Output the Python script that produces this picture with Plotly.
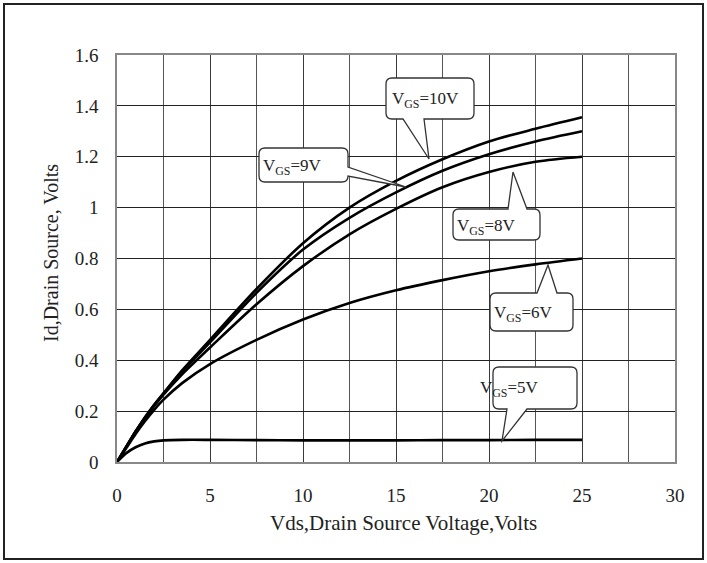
import plotly.graph_objects as go

# ---- data ----
vds = [0, 0.5, 1, 1.5, 2, 2.5, 3.5, 5, 7.5, 10, 12.5, 15, 17.5, 20, 22.5, 25]
id_10v = [0, 0.06, 0.12, 0.175, 0.225, 0.27, 0.36, 0.48, 0.68, 0.86, 1.00, 1.105, 1.19, 1.26, 1.31, 1.355]
id_9v = [0, 0.06, 0.12, 0.175, 0.225, 0.27, 0.355, 0.47, 0.665, 0.835, 0.96, 1.06, 1.145, 1.21, 1.26, 1.30]
id_8v = [0, 0.06, 0.12, 0.17, 0.22, 0.265, 0.345, 0.45, 0.62, 0.77, 0.895, 0.995, 1.08, 1.14, 1.18, 1.20]
id_6v = [0, 0.055, 0.11, 0.16, 0.205, 0.245, 0.31, 0.385, 0.48, 0.56, 0.625, 0.675, 0.715, 0.75, 0.777, 0.80]
id_5v = [0, 0.035, 0.058, 0.073, 0.081, 0.085, 0.087, 0.087, 0.086, 0.085, 0.085, 0.085, 0.086, 0.086, 0.087, 0.087]
series = [id_10v, id_9v, id_8v, id_6v, id_5v]
labels = ["V<sub>GS</sub>=10V", "V<sub>GS</sub>=9V", "V<sub>GS</sub>=8V", "V<sub>GS</sub>=6V", "V<sub>GS</sub>=5V"]
x_ticks = [0, 5, 10, 15, 20, 25, 30]
x_title = "Vds,Drain Source Voltage,Volts"
y_title = "Id,Drain Source, Volts"

# ---- layout geometry ----
W, H = 707, 563
L, R, T, B = 117, 675, 55, 462   # plot area in px
XMAX, YMAX = 30, 1.6

def px2x(px):
    return (px - L) / (R - L) * XMAX

def px2y(py):
    return (B - py) / (B - T) * YMAX

def px2paper(px, py):
    return (px - L) / (R - L), (B - py) / (B - T)

def pt(px, py):
    return f"{px2x(px):.4f},{px2y(py):.4f}"

def callout(x0, y0, x1, y1, side, b1, b2, tip, r=6):
    # rounded rect in px with a wedge on 'side' (base b1..b2, tip point)
    segs = ["M" + pt(x0 + r, y0)]
    if side == "top":
        segs += ["L" + pt(b1, y0), "L" + pt(*tip), "L" + pt(b2, y0)]
    segs.append("L" + pt(x1 - r, y0))
    segs.append("Q" + pt(x1, y0) + " " + pt(x1, y0 + r))
    if side == "right":
        segs += ["L" + pt(x1, b1), "L" + pt(*tip), "L" + pt(x1, b2)]
    segs.append("L" + pt(x1, y1 - r))
    segs.append("Q" + pt(x1, y1) + " " + pt(x1 - r, y1))
    if side == "bottom":
        segs += ["L" + pt(b2, y1), "L" + pt(*tip), "L" + pt(b1, y1)]
    segs.append("L" + pt(x0 + r, y1))
    segs.append("Q" + pt(x0, y1) + " " + pt(x0, y1 - r))
    segs.append("L" + pt(x0, y0 + r))
    segs.append("Q" + pt(x0, y0) + " " + pt(x0 + r, y0))
    segs.append("Z")
    return " ".join(segs)

fig = go.Figure()
for ys in series:
    fig.add_trace(go.Scatter(x=vds, y=ys, mode="lines",
                             line=dict(color="black", width=2.6, shape="spline", smoothing=0.9),
                             showlegend=False, hoverinfo="skip"))

callouts = [
    # box px (x0,y0,x1,y1), side, base1, base2, tip, text x, text y
    ((386, 78, 474, 119), "bottom", 403, 424, (429, 159), 390, 100),
    ((259, 148, 348, 182), "right", 167, 176, (406, 187), 261, 167),
    ((453, 209, 540, 240), "top", 508, 527, (513, 172), 455, 227),
    ((490, 293, 573, 331), "top", 537, 557, (548, 265), 492, 314),
    ((493, 367, 577, 409), "bottom", 507, 527, (502, 441), 478, 389),
]
shapes = []
annotations = []
for (box, side, b1, b2, tip, tx, ty), lab in zip(callouts, labels):
    shapes.append(dict(type="path", xref="x", yref="y",
                       path=callout(*box, side, b1, b2, tip),
                       line=dict(color="#333", width=1.3), fillcolor="white", layer="above"))
    annotations.append(dict(x=px2x(tx), y=px2y(ty), xref="x", yref="y", text=lab,
                            showarrow=False, xanchor="left", yanchor="middle",
                            font=dict(family="Liberation Serif", size=17, color="#222")))

# axis titles
ax, ay = px2paper(403, 523)
annotations.append(dict(x=ax, y=ay, xref="paper", yref="paper", text=x_title, showarrow=False,
                        xanchor="center", yanchor="middle",
                        font=dict(family="Liberation Serif", size=21, color="#222")))
bx, by = px2paper(51, 253)
annotations.append(dict(x=bx, y=by, xref="paper", yref="paper", text=y_title, showarrow=False,
                        xanchor="center", yanchor="middle", textangle=-90,
                        font=dict(family="Liberation Serif", size=20, color="#222")))

# outer frame
shapes.append(dict(type="rect", xref="paper", yref="paper",
                   x0=(4 - L) / (R - L), x1=(703 - L) / (R - L),
                   y0=(B - 559) / (B - T), y1=(B - 4) / (B - T),
                   line=dict(color="#222", width=2), fillcolor="rgba(0,0,0,0)", layer="below"))

fig.update_layout(
    width=W, height=H,
    margin=dict(l=L, r=W - R, t=T, b=H - B),
    paper_bgcolor="white", plot_bgcolor="white",
    font=dict(family="Liberation Serif", color="#222"),
    shapes=shapes, annotations=annotations,
    xaxis=dict(range=[0, XMAX], tickvals=x_ticks, showgrid=True, gridcolor="#3a3a3a", gridwidth=1,
               minor=dict(dtick=2.5, showgrid=True, gridcolor="#555", gridwidth=1),
               ticks="outside", ticklen=15, tickcolor="rgba(0,0,0,0)",
               tickfont=dict(size=19, family="Liberation Serif", color="#222"),
               showline=True, linecolor="#888", linewidth=1.5, mirror=True, zeroline=False),
    yaxis=dict(range=[0, YMAX], dtick=0.2, showgrid=True, gridcolor="#222", gridwidth=1,
               ticks="outside", ticklen=13, tickcolor="rgba(0,0,0,0)",
               tickfont=dict(size=19, family="Liberation Serif", color="#222"),
               showline=True, linecolor="#888", linewidth=1.5, mirror=True, zeroline=False),
)

fig.write_html("out.html")
